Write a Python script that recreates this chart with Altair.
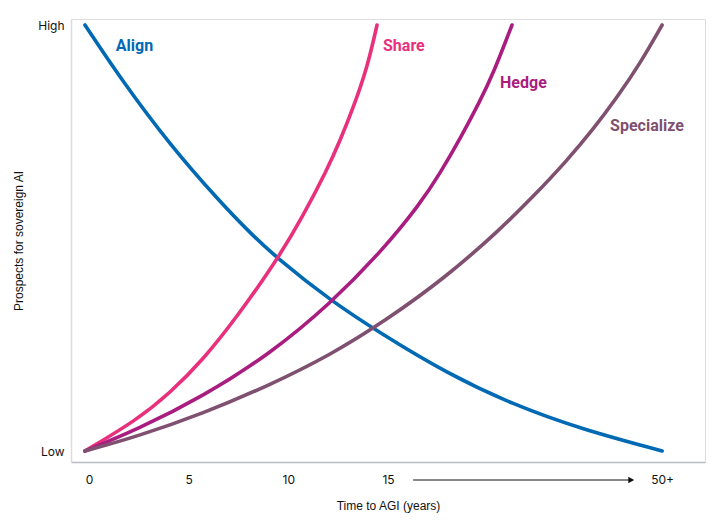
import altair as alt
import pandas as pd

# Strategy curves: time to AGI (years, 50+ placed at 28.75) vs prospects (0 = Low, 1 = High)
align_x = [-0.2, 1.56, 4.07, 6.57, 8.08, 9.43, 12.09, 14.6, 17.96, 21.27, 24.64, 28.75]
align_y = [1.0, 0.876, 0.718, 0.585, 0.512, 0.453, 0.354, 0.277, 0.182, 0.109, 0.052, 0.0]

share_x = [-0.2, 2.41, 4.06, 5.72, 7.43, 9.43, 10.74, 11.94, 12.59, 13.25, 13.95, 14.45]
share_y = [0.0, 0.073, 0.136, 0.214, 0.315, 0.448, 0.552, 0.660, 0.728, 0.805, 0.898, 1.0]

hedge_x = [-0.2, 2.41, 5.72, 9.08, 12.09, 14.70, 16.61, 17.61, 18.62, 19.62, 20.27, 21.22]
hedge_y = [0.0, 0.050, 0.128, 0.228, 0.345, 0.470, 0.580, 0.652, 0.733, 0.822, 0.885, 1.0]

special_x = [-0.2, 2.41, 5.72, 9.08, 12.09, 14.85, 17.96, 20.62, 22.28, 23.98, 25.29, 26.49, 27.65, 28.75]
special_y = [0.0, 0.034, 0.088, 0.155, 0.225, 0.305, 0.410, 0.520, 0.597, 0.682, 0.755, 0.830, 0.910, 1.0]

strategies = ["Align", "Share", "Hedge", "Specialize"]
colors = ["#0069b3", "#e8307c", "#aa1d80", "#7f506f"]

x_ticks = [0, 5, 10, 15, 28.75]

rows = []
for name, xs, ys in [
    ("Align", align_x, align_y),
    ("Share", share_x, share_y),
    ("Hedge", hedge_x, hedge_y),
    ("Specialize", special_x, special_y),
]:
    for i, (xv, yv) in enumerate(zip(xs, ys)):
        rows.append({"strategy": name, "t": xv, "p": yv, "order": i})
curves = pd.DataFrame(rows)

# Inline label anchors (left edge of each label)
labels = pd.DataFrame({
    "strategy": strategies,
    "t": [1.35, 14.75, 20.62, 26.14],
    "p": [0.951, 0.951, 0.864, 0.763],
})

x_scale = alt.Scale(domain=[-0.9, 30.9], nice=False, zero=False)
y_scale = alt.Scale(domain=[-0.0258, 1.0141], nice=False, zero=False)
color_scale = alt.Scale(domain=strategies, range=colors)

x_axis = alt.Axis(
    values=x_ticks,
    labelExpr="datum.value > 20 ? '50+' : datum.label",
    title="Time to AGI (years)",
    ticks=False,
    grid=False,
    labelPadding=12,
    labelFont="Inter",
    labelFontSize=12,
    labelColor="#111111",
    titleFont="Liberation Sans",
    titleFontSize=12,
    titleFontWeight="normal",
    titleColor="#111111",
    titlePadding=15,
    domainColor="#b9bcc4",
    domainWidth=1.5,
)
y_axis = alt.Axis(
    values=[0, 1],
    labelExpr="datum.value > 0.5 ? 'High' : 'Low'",
    title="Prospects for sovereign AI",
    ticks=False,
    grid=False,
    labelPadding=7,
    labelFont="Inter",
    labelFontSize=12,
    labelColor="#111111",
    titleFont="Liberation Sans",
    titleFontSize=12,
    titleFontWeight="normal",
    titleColor="#111111",
    titlePadding=12,
    domainColor="#d9dce0",
    domainWidth=1.5,
)

lines = alt.Chart(curves).mark_line(
    strokeWidth=3.6, strokeCap="round", interpolate="basis"
).encode(
    x=alt.X("t:Q", scale=x_scale, axis=x_axis),
    y=alt.Y("p:Q", scale=y_scale, axis=y_axis),
    color=alt.Color("strategy:N", scale=color_scale, legend=None),
    detail="strategy:N",
    order="order:Q",
)

text = alt.Chart(labels).mark_text(
    align="left", baseline="middle", font="Roboto", fontSize=16, fontWeight="bold"
).encode(
    x=alt.X("t:Q", scale=x_scale),
    y=alt.Y("p:Q", scale=y_scale),
    text="strategy:N",
    color=alt.Color("strategy:N", scale=color_scale, legend=None),
)

# Arrow between the 15 and 50+ tick labels
arrow_df = pd.DataFrame({"t0": [16.26], "t1": [27.2]})
arrow_line = alt.Chart(arrow_df).mark_rule(color="#111111", strokeWidth=1).encode(
    x=alt.X("t0:Q", scale=x_scale),
    x2="t1:Q",
    y=alt.value(461),
)
arrow_head = alt.Chart(arrow_df).mark_point(
    shape="triangle-right", filled=True, color="#111111", opacity=1, size=45
).encode(
    x=alt.X("t1:Q", scale=x_scale),
    y=alt.value(461),
)

chart = alt.layer(lines, text, arrow_line, arrow_head).properties(
    width=634,
    height=443,
    autosize=alt.AutoSizeParams(type="none"),
    padding={"left": 71, "top": 19, "right": 10, "bottom": 69},
).configure_view(stroke=None).configure(background="white")

chart.save("out.html", embed_options={"renderer": "svg", "actions": False})
